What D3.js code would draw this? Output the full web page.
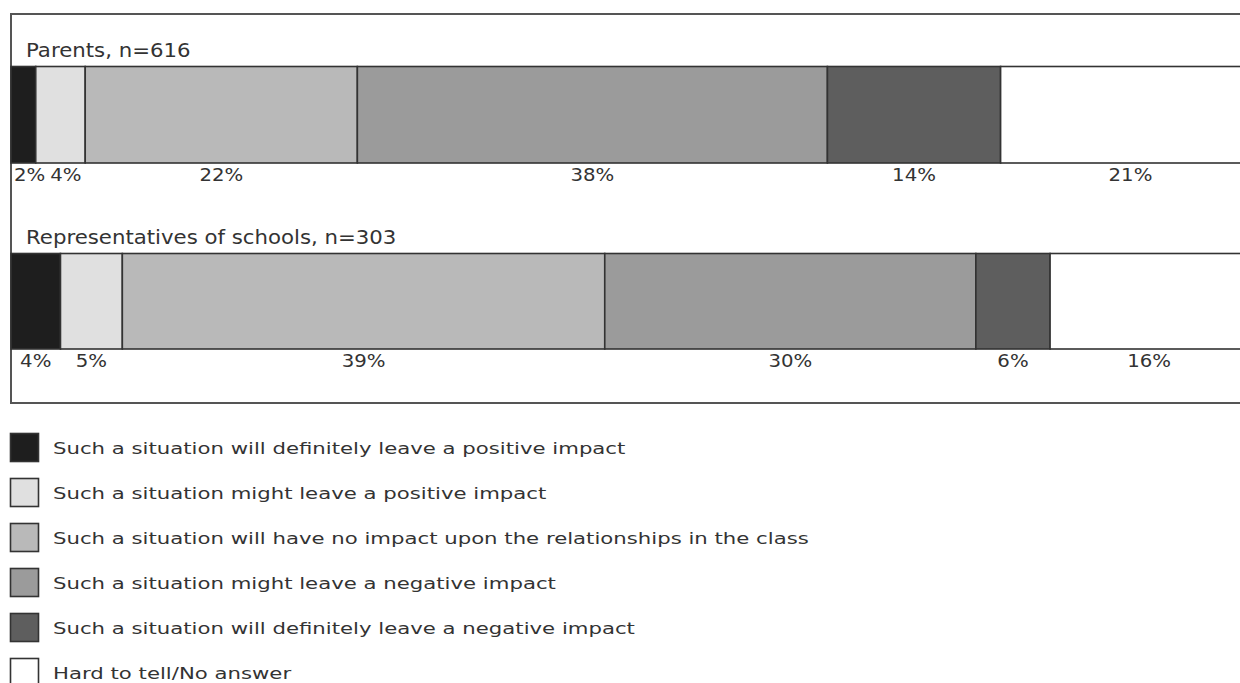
<!DOCTYPE html>
<html>
<head>
<meta charset="utf-8">
<script src="https://cdn.jsdelivr.net/npm/d3@7/dist/d3.min.js"></script>
<style>
  html, body { margin: 0; padding: 0; background: #fff; }
  svg { display: block; }
  text { font-family: "DejaVu Sans", sans-serif; fill: #333; }
</style>
</head>
<body>
<svg id="chart" width="1240" height="683"></svg>
<script>
// Answer categories (stack order, left to right)
const categories = [
  "Such a situation will definitely leave a positive impact",
  "Such a situation might leave a positive impact",
  "Such a situation will have no impact upon the relationships in the class",
  "Such a situation might leave a negative impact",
  "Such a situation will definitely leave a negative impact",
  "Hard to tell/No answer"
];
const categoryColors = ["#1e1e1e", "#e0e0e0", "#b9b9b9", "#9b9b9b", "#5e5e5e", "#ffffff"];

// Respondent groups and their shares (%)
const groups = ["Parents, n=616", "Representatives of schools, n=303"];
const parentsValues = [2, 4, 22, 38, 14, 21];
const schoolsValues = [4, 5, 39, 30, 6, 16];
const groupValues = [parentsValues, schoolsValues];

const svg = d3.select("#chart");

const x = d3.scaleLinear().domain([0, 100]).range([11, 1248]);
const barTops = [66.5, 253.5];
const barHeights = [96.5, 95.5];

// horizontal stretch for an extended-looking typeface
const titleStretch = 1.12, valueStretch = 1.16, legendStretch = 1.37;

// outer frame (runs off the right edge)
svg.append("rect")
  .attr("x", 11).attr("y", 14)
  .attr("width", 1260).attr("height", 389)
  .attr("fill", "none").attr("stroke", "#555").attr("stroke-width", 2);

groups.forEach((g, gi) => {
  const vals = groupValues[gi];
  const starts = d3.cumsum([0, ...vals]).slice(0, vals.length);
  const segs = vals.map((v, i) => ({ v, i, x0: starts[i], x1: starts[i] + v }));
  const top = barTops[gi];
  const h = barHeights[gi];

  const grp = svg.append("g");

  grp.append("text")
    .attr("transform", `translate(26,${top - 9.5}) scale(${titleStretch},1)`)
    .attr("font-size", 19)
    .text(g);

  grp.selectAll("rect.seg").data(segs).join("rect")
    .attr("class", "seg")
    .attr("x", d => x(d.x0))
    .attr("y", top)
    .attr("width", d => x(d.x1) - x(d.x0))
    .attr("height", h)
    .attr("fill", d => categoryColors[d.i])
    .attr("stroke", "#333")
    .attr("stroke-width", 1.6);

  const labels = grp.selectAll("text.val").data(segs).join("text")
    .attr("class", "val")
    .attr("font-size", 17)
    .attr("text-anchor", "middle")
    .attr("fill", "#444")
    .text(d => d.v + "%");

  // centre each label under its segment, keeping narrow ones clear of the frame and each other
  let prevRight = x(0) - 2;
  labels.each(function (d) {
    const w = this.getComputedTextLength() * valueStretch;
    let cx = (x(d.x0) + x(d.x1)) / 2;
    if (cx - w / 2 < prevRight + 5) cx = prevRight + 5 + w / 2;
    d3.select(this).attr("transform", `translate(${cx},${top + h + 18}) scale(${valueStretch},1)`);
    prevRight = cx + w / 2;
  });
});

// legend
const legend = svg.append("g");
const ly = d3.scalePoint().domain(d3.range(categories.length)).range([433, 658]);
const items = legend.selectAll("g").data(categories).join("g")
  .attr("transform", (d, i) => `translate(10.5,${ly(i) + 0.5})`);
items.append("rect")
  .attr("width", 28).attr("height", 28)
  .attr("fill", (d, i) => categoryColors[i])
  .attr("stroke", "#333").attr("stroke-width", 1.6);
items.append("text")
  .attr("transform", `translate(42.5,20) scale(${legendStretch},1)`)
  .attr("font-size", 15.5)
  .text(d => d);
</script>
</body>
</html>
